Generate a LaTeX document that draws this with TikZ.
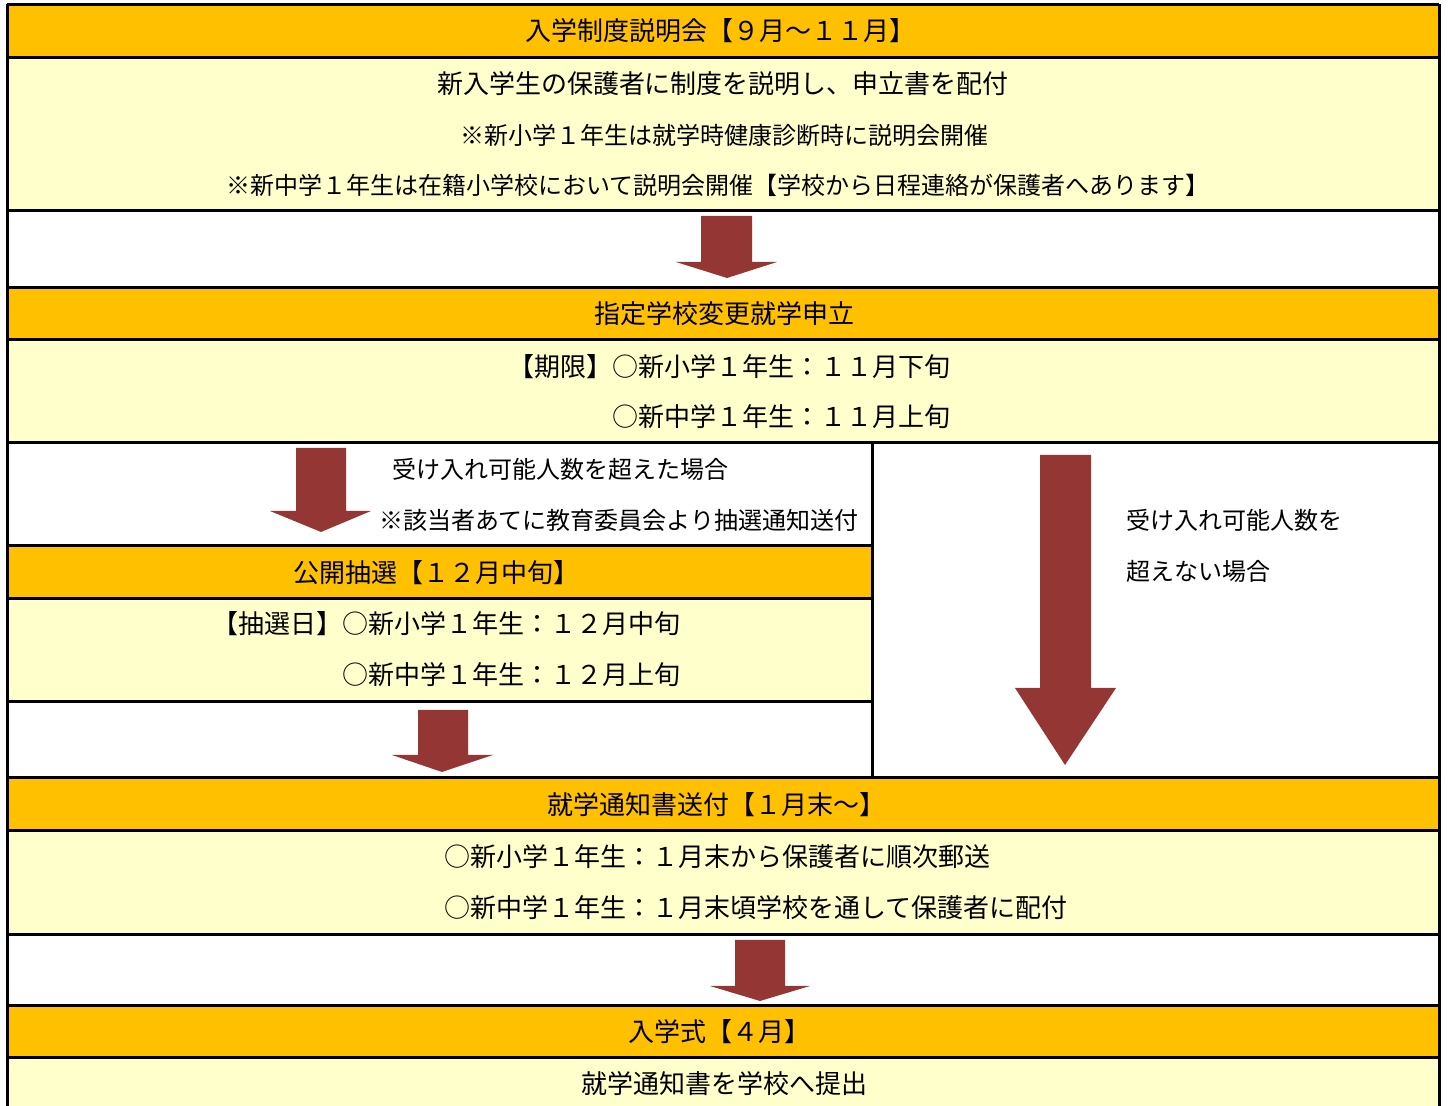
\documentclass[tikz,border=0pt]{standalone}
\usepackage{fontspec}
\setmainfont{Noto Sans CJK JP}
\definecolor{hdr}{HTML}{FFC000}
\definecolor{bodyc}{HTML}{FFFFCC}
\definecolor{arr}{HTML}{943634}
\tikzset{
  gridline/.style={line width=1.5pt, black},
  hdrtxt/.style={inner sep=0pt, font=\fontsize{13pt}{15pt}\selectfont},
  maintxt/.style={inner sep=0pt, font=\fontsize{13pt}{15pt}\selectfont},
  notetxt/.style={inner sep=0pt, font=\fontsize{12pt}{14pt}\selectfont},
  blockarrow/.style={fill=arr, draw=none}
}
\begin{document}
\begin{tikzpicture}[x=0.5pt,y=-0.5pt]
\clip (0,0) rectangle (1448,1106);
\fill[white] (0,0) rectangle (1448,1106);
% fills
\fill[hdr] (7,5) rectangle (1439,58);
\fill[bodyc] (7,58) rectangle (1439,211);
\fill[hdr] (7,288) rectangle (1439,340);
\fill[bodyc] (7,340) rectangle (1439,443);
\fill[hdr] (7,546) rectangle (872,599);
\fill[bodyc] (7,599) rectangle (872,702);
\fill[hdr] (7,778) rectangle (1439,831);
\fill[bodyc] (7,831) rectangle (1439,935);
\fill[hdr] (7,1006) rectangle (1439,1058);
\fill[bodyc] (7,1058) rectangle (1439,1130);
% grid lines
\foreach \yy in {5,58,211,288,340,443,778,831,935,1006,1058}
  \draw[gridline] (7,\yy) -- (1439,\yy);
\foreach \yy in {546,599,702}
  \draw[gridline] (7,\yy) -- (872,\yy);
\draw[gridline] (7,4.3) -- (7,1130);
\draw[gridline] (1439,4.3) -- (1439,1130);
\draw[gridline] (872,443) -- (872,778);
% block arrows
\fill[blockarrow] (701,216) -- (752,216) -- (752,262) -- (777,262) -- (727,278) -- (676,262) -- (701,262) -- cycle;
\fill[blockarrow] (296,448) -- (346,448) -- (346,511) -- (371,511) -- (321,532) -- (270,511) -- (296,511) -- cycle;
\fill[blockarrow] (418,710) -- (468,710) -- (468,755) -- (493,755) -- (442,772) -- (392,755) -- (418,755) -- cycle;
\fill[blockarrow] (735,940) -- (785,940) -- (785,986) -- (810,986) -- (760,1001) -- (710,986) -- (735,986) -- cycle;
\fill[blockarrow] (1040,455) -- (1091,455) -- (1091,688) -- (1116,688) -- (1065,765) -- (1015,688) -- (1040,688) -- cycle;
% texts
\node[hdrtxt] (t1) at (720,31) {入学制度説明会【９月～１１月】};
\node[maintxt] (t1a) at (723,84) {新入学生の保護者に制度を説明し、申立書を配付};
\node[notetxt] (t1b) at (724,135) {※新小学１年生は就学時健康診断時に説明会開催};
\node[notetxt] (t1c) at (718,185) {※新中学１年生は在籍小学校において説明会開催【学校から日程連絡が保護者へあります】};
\node[hdrtxt] (t2) at (724,314) {指定学校変更就学申立};
\node[maintxt, anchor=east] (t2a) at (951,367) {【期限】○新小学１年生：１１月下旬};
\node[maintxt, anchor=east] (t2b) at (951,417) {○新中学１年生：１１月上旬};
\node[notetxt, anchor=west] (c1) at (392,469) {受け入れ可能人数を超えた場合};
\node[notetxt, anchor=west] (c2) at (379,520) {※該当者あてに教育委員会より抽選通知送付};
\node[notetxt, anchor=west] (c3) at (1126,520) {受け入れ可能人数を};
\node[notetxt, anchor=west] (c4) at (1126,571) {超えない場合};
\node[hdrtxt] (t3) at (436,573) {公開抽選【１２月中旬】};
\node[maintxt, anchor=east] (t3a) at (681,624) {【抽選日】○新小学１年生：１２月中旬};
\node[maintxt, anchor=east] (t3b) at (681,675) {○新中学１年生：１２月上旬};
\node[hdrtxt] (t4) at (716,805) {就学通知書送付【１月末～】};
\node[maintxt, anchor=west] (t4a) at (444,857) {○新小学１年生：１月末から保護者に順次郵送};
\node[maintxt, anchor=west] (t4b) at (444,908) {○新中学１年生：１月末頃学校を通して保護者に配付};
\node[hdrtxt] (t5) at (719,1032) {入学式【４月】};
\node[maintxt] (t5a) at (724,1084) {就学通知書を学校へ提出};
\end{tikzpicture}
\end{document}
